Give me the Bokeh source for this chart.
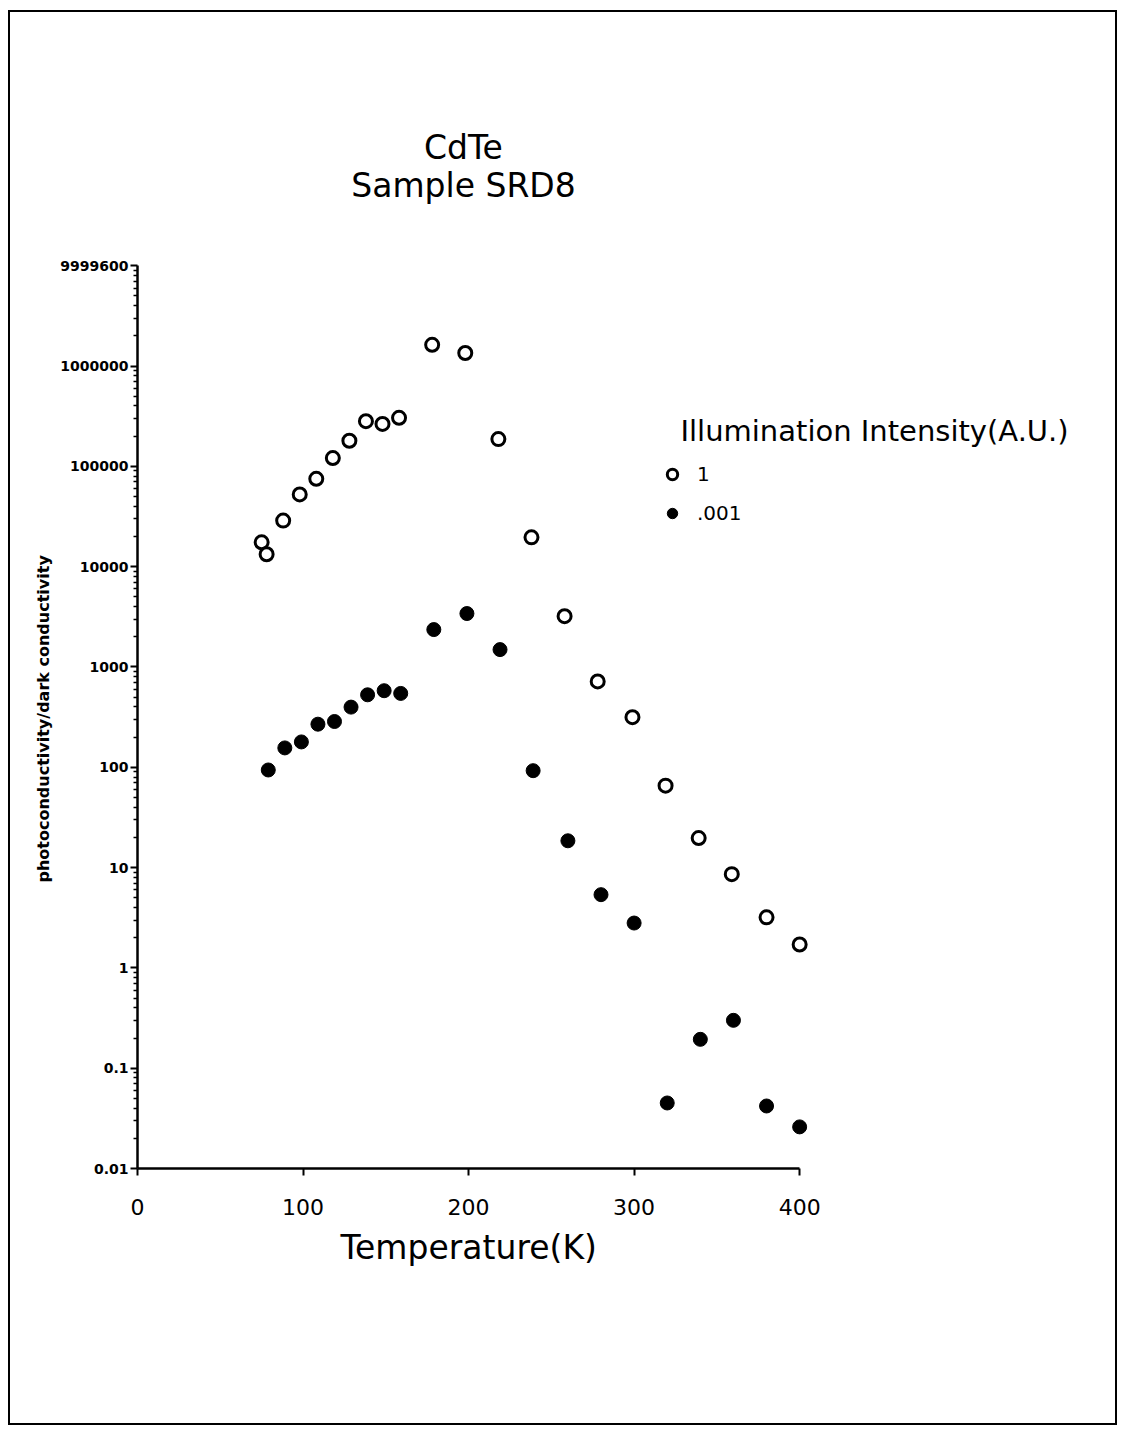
from bokeh.plotting import figure
from bokeh.models import FixedTicker, CustomJSTickFormatter, Legend, LegendItem, Label, Range1d, Title
from bokeh.embed import file_html
from bokeh.resources import INLINE

# Illumination intensity 1 (A.U.) - open circles
temp_1 = [75, 78, 88, 98, 108, 118, 128, 138, 148, 158, 178, 198, 218, 238,
          258, 278, 299, 319, 339, 359, 380, 400]
ratio_1 = [17500, 13300, 28800, 52500, 75200, 121000, 180000, 282000, 265000,
           305000, 1630000, 1350000, 187000, 19600, 3210, 718, 316, 65.6,
           19.7, 8.6, 3.19, 1.71]

# Illumination intensity .001 (A.U.) - filled circles
temp_001 = [79, 89, 99, 109, 119, 129, 139, 149, 159, 179, 199, 219, 239, 260,
            280, 300, 320, 340, 360, 380, 400]
ratio_001 = [94, 156, 179, 269, 286, 398, 528, 580, 545, 2360, 3410, 1490, 92.5,
             18.5, 5.37, 2.8, 0.045, 0.194, 0.30, 0.042, 0.026]

x_ticks = [0, 100, 200, 300, 400]
y_ticks = [0.01, 0.1, 1, 10, 100, 1000, 10000, 100000, 1000000, 9999600]
y_minor = [m * 10.0 ** e for e in range(-2, 7) for m in range(2, 10)]

title_lines = ["CdTe", "Sample SRD8"]
x_label = "Temperature(K)"
y_label = "photoconductivity/dark conductivity"
legend_title = "Illumination Intensity(A.U.)"
legend_labels = ["1", ".001"]

FONT = "DejaVu Sans"

# frame spans to the canvas top/right so that texts drawn there are not clipped;
# the axes are limited to the data extent with bounds
p = figure(width=1105, height=1411, x_range=Range1d(0, 590.8),
           y_range=Range1d(0.01, 3.35e9), y_axis_type="log",
           min_border_left=127, min_border_right=0,
           min_border_top=0, min_border_bottom=255,
           output_backend="svg", toolbar_location=None)
p.styles = {"margin-left": "10px", "margin-top": "12px", "outline": "2px solid black"}
p.outline_line_color = None
p.xgrid.visible = False
p.ygrid.visible = False
p.background_fill_color = "white"
p.border_fill_color = "white"

r1 = p.scatter(temp_1, ratio_1, marker="circle", size=13, fill_color="white",
               line_color="black", line_width=3)
r2 = p.scatter(temp_001, ratio_001, marker="circle", size=14, fill_color="black",
               line_color="black", line_width=1)

# x axis
xa = p.xaxis[0]
xa.bounds = (0, 400)
xa.ticker = FixedTicker(ticks=x_ticks)
xa.axis_line_width = 2.5
xa.major_tick_line_width = 2
xa.major_tick_in = 0
xa.major_tick_out = 7
xa.minor_tick_line_color = None
xa.major_label_text_font = FONT
xa.major_label_text_font_size = "22px"
xa.major_label_text_color = "black"
xa.major_label_standoff = 23

# y axis
ya = p.yaxis[0]
ya.bounds = (0.01, 9999600)
ya.ticker = FixedTicker(ticks=y_ticks, minor_ticks=y_minor)
ya.formatter = CustomJSTickFormatter(code="return String(tick);")
ya.axis_line_width = 2.5
ya.major_tick_line_width = 2
ya.minor_tick_line_width = 1.5
ya.major_tick_in = 0
ya.major_tick_out = 7
ya.minor_tick_in = 0
ya.minor_tick_out = 4
ya.major_label_text_font = FONT
ya.major_label_text_font_size = "14px"
ya.major_label_text_font_style = "bold"
ya.major_label_text_color = "black"
ya.major_label_standoff = 2

# axis titles placed as side-panel titles so they can be centred on the axes' extent
p.add_layout(Title(text=x_label, align="left", offset=203, standoff=16,
                   text_font=FONT, text_font_size="33px", text_font_style="normal",
                   text_color="black"), "below")
p.add_layout(Title(text=y_label, align="left", offset=286, standoff=9,
                   text_font=FONT, text_font_size="16px", text_font_style="bold",
                   text_color="black"), "left")

# chart title (screen units relative to frame bottom-left)
for txt, yy in zip(title_lines, [1021, 983]):
    p.add_layout(Label(x=326, y=yy, x_units="screen", y_units="screen", text=txt,
                       text_align="center", text_baseline="middle",
                       text_font=FONT, text_font_size="33px", text_color="black"))

p.add_layout(Label(x=543, y=738, x_units="screen", y_units="screen", text=legend_title,
                   text_align="left", text_baseline="middle",
                   text_font=FONT, text_font_size="29px", text_color="black"))

legend = Legend(items=[LegendItem(label=legend_labels[0], renderers=[r1]),
                       LegendItem(label=legend_labels[1], renderers=[r2])],
                location=(522, 642), orientation="vertical")
legend.padding = 0
legend.margin = 0
legend.spacing = 13
legend.glyph_width = 26
legend.glyph_height = 26
legend.label_standoff = 12
legend.label_text_font = FONT
legend.label_text_font_size = "20px"
legend.label_text_color = "black"
legend.border_line_color = None
legend.background_fill_alpha = 0
p.add_layout(legend, "center")

open("out.html", "w").write(file_html(p, INLINE))
